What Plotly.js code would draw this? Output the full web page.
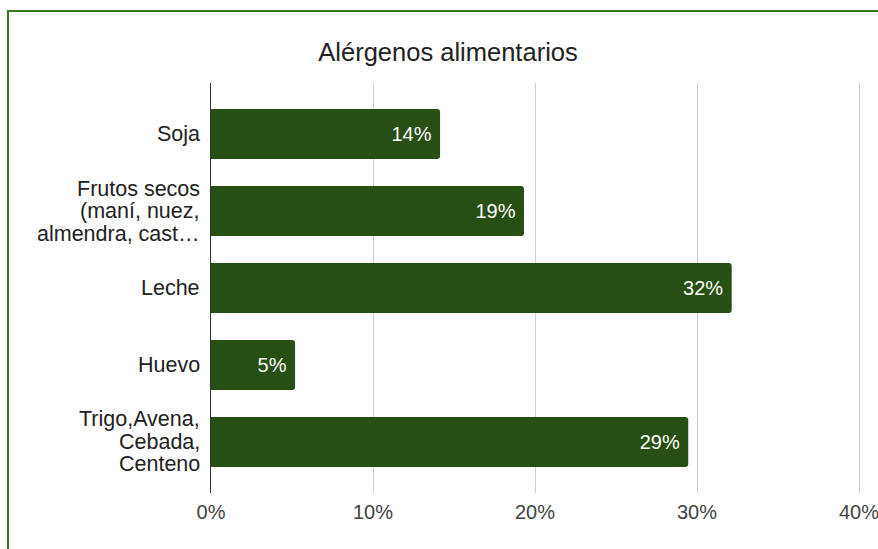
<!DOCTYPE html>
<html>
<head>
<meta charset="utf-8">
<script src="https://cdn.plot.ly/plotly-3.0.1.min.js"></script>
<style>
  html, body { margin: 0; padding: 0; background: #ffffff; }
  #wrap { position: relative; width: 878px; height: 549px; overflow: hidden; }
  #chart { position: absolute; left: 0; top: 0; width: 878px; height: 549px; }
  #frame { position: absolute; left: 7px; top: 10px; width: 900px; height: 600px;
           border-left: 2px solid #38761d; border-top: 2px solid #38761d; pointer-events: none; }
</style>
</head>
<body>
<div id="wrap">
  <div id="chart"></div>
  <div id="frame"></div>
</div>
<script>
const categories = [
  ["Soja"],
  ["Frutos secos", "(maní, nuez,", "almendra, cast…"],
  ["Leche"],
  ["Huevo"],
  ["Trigo,Avena,", "Cebada,", "Centeno"]
];
const values = [0.1414, 0.1932, 0.3214, 0.0519, 0.2946];
const xTickVals = [0, 0.1, 0.2, 0.3, 0.4];
const xTickText = ["0%", "10%", "20%", "30%", "40%"];
const chartTitle = "Alérgenos alimentarios";

const FONT = "'Liberation Sans', Arial, sans-serif";
const LABEL_SIZE = 21.5;
const LINE_H = 22.5;
const idx = categories.map((_, i) => i);

const trace = {
  type: "bar",
  orientation: "h",
  y: idx,
  x: values,
  width: 0.65,
  marker: { color: "#274e13", line: { width: 0 } },
  text: values.map(v => Math.round(v * 100) + "%\u00a0"),
  textposition: "inside",
  insidetextanchor: "end",
  textangle: 0,
  constraintext: "none",
  textfont: { family: FONT, size: 20, color: "#ffffff" },
  hoverinfo: "none"
};

// category labels, one annotation per text line (tight line spacing)
const annotations = [];
categories.forEach((lines, i) => {
  const n = lines.length;
  lines.forEach((line, k) => {
    annotations.push({
      xref: "paper", x: 0, xanchor: "right", xshift: -9,
      yref: "y", y: i, yanchor: "middle",
      yshift: ((n - 1) / 2 - k) * LINE_H,
      text: line, showarrow: false,
      font: { family: FONT, size: LABEL_SIZE, color: "#222222" }
    });
  });
});

const layout = {
  width: 878,
  height: 549,
  margin: { l: 211, r: 17, t: 83, b: 56, pad: 0 },
  paper_bgcolor: "#ffffff",
  plot_bgcolor: "#ffffff",
  showlegend: false,
  barcornerradius: 3,
  annotations: annotations,
  title: {
    text: chartTitle,
    font: { family: FONT, size: 25.5, color: "#222222" },
    xref: "container", x: 0.5103, xanchor: "center",
    yref: "container", y: 0.905, yanchor: "middle"
  },
  xaxis: {
    range: [0, 0.40123],
    tickvals: xTickVals,
    ticktext: xTickText,
    showgrid: true,
    gridcolor: "#cccccc",
    gridwidth: 1,
    zeroline: false,
    showline: false,
    ticks: "",
    ticklabelstandoff: 5,
    ticklabeloverflow: "allow",
    tickfont: { family: FONT, size: 20, color: "#444444" },
    fixedrange: true
  },
  yaxis: {
    range: [4.663, -0.663],
    tickvals: idx,
    showticklabels: false,
    showgrid: false,
    zeroline: false,
    showline: true,
    linecolor: "#333333",
    linewidth: 1,
    ticks: "",
    fixedrange: true
  }
};

Plotly.newPlot("chart", [trace], layout, { displayModeBar: false, staticPlot: true });
</script>
</body>
</html>
